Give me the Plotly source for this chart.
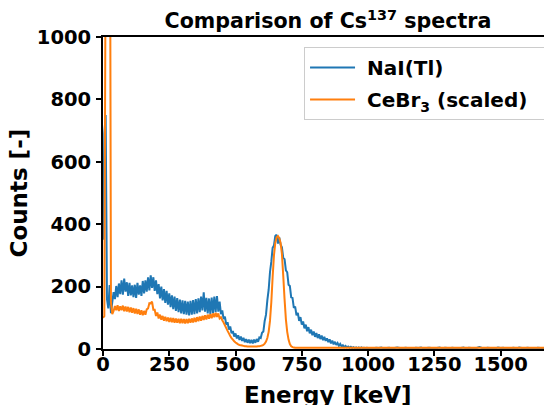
import plotly.graph_objects as go

# ---- data ----
channel_step_keV = 5          # main region 0..1000 keV
tail_step_keV = 10            # tail region 1010..1690 keV

nai_counts = [
    350, 690, 750, 160, 130, 205, 115, 150, 182, 160,
    202, 166, 210, 176, 220, 174, 226, 184, 214, 170,
    212, 172, 204, 166, 206, 164, 212, 174, 204, 170,
    218, 178, 220, 184, 230, 188, 236, 196, 230, 186,
    220, 176, 208, 162, 200, 156, 192, 148, 186, 142,
    178, 134, 172, 128, 168, 122, 163, 118, 158, 114,
    156, 112, 154, 110, 152, 108, 154, 110, 157, 112,
    160, 114, 162, 118, 168, 124, 182, 120, 164, 114,
    162, 112, 165, 116, 168, 118, 170, 120, 152, 112,
    124, 96, 104, 78, 86, 62, 72, 50, 58, 40,
    50, 34, 44, 29, 40, 26, 36, 22, 32, 20,
    30, 19, 29, 18, 30, 20, 32, 23, 37, 35,
    52, 56, 90, 110, 156, 190, 246, 280, 324, 332,
    362, 366, 338, 358, 334, 326, 292, 288, 252, 246,
    206, 202, 166, 164, 132, 136, 108, 116, 90, 102,
    78, 88, 66, 78, 57, 70, 50, 62, 44, 56,
    39, 51, 35, 47, 32, 43, 28, 39, 26, 34,
    22, 31, 18, 27, 15, 23, 13, 19, 10, 16,
    8, 12, 6, 10, 5, 8, 4, 7, 3, 6,
    3, 5, 2, 5, 2, 5, 3, 4, 2, 4,
    3,
]
nai_tail_counts = [
    3, 2, 4, 3, 5, 2, 3, 4, 2, 3, 5, 3, 2, 4, 3, 3, 2, 4, 3, 5,
    2, 3, 4, 3, 2, 3, 5, 2, 4, 3, 3, 4, 2, 3, 3, 5, 2, 4, 3, 2,
    3, 6, 3, 2, 4, 3, 3, 2, 5, 3, 4, 2, 3, 3, 4, 2, 5, 3, 2, 4,
    3, 3, 2, 4, 3, 2, 3, 4, 2,
]

cebr3_counts = [
    100, 105, 1300, 2500, 2500, 2000, 150, 112, 122, 138,
    124, 140, 122, 137, 124, 139, 121, 136, 120, 135,
    118, 133, 116, 131, 114, 129, 112, 127, 110, 124,
    108, 122, 110, 127, 130, 147, 146, 152, 126, 126,
    106, 117, 98, 110, 94, 106, 91, 103, 89, 101,
    87, 100, 86, 99, 84, 98, 84, 97, 83, 97,
    83, 96, 82, 96, 83, 97, 84, 98, 85, 100,
    87, 102, 89, 104, 91, 106, 93, 108, 95, 110,
    97, 112, 99, 114, 102, 116, 103, 114, 98, 102,
    92, 85, 76, 67, 58, 50, 42, 35, 30, 25,
    21, 18, 15, 13, 12, 11, 10, 9, 9, 8,
    8, 8, 8, 8, 8, 8, 8, 9, 9, 10,
    11, 13, 17, 24, 35, 55, 90, 150, 230, 300,
    340, 358, 362, 355, 340, 305, 235, 160, 95, 55,
    30, 16, 9, 6, 5, 4, 4, 4, 4, 4,
    4, 4, 4, 4, 4, 4, 4, 4, 4, 4,
    4, 4, 4, 4, 4, 4, 4, 4, 4, 4,
    4, 4, 4, 4, 4, 4, 4, 4, 4, 4,
    4, 4, 4, 4, 4, 4, 4, 4, 4, 4,
    4, 4, 4, 4, 4, 4, 4, 4, 4, 4,
    4,
]
cebr3_tail_counts = [4] * 69

x_tick_values = [0, 250, 500, 750, 1000, 1250, 1500]
y_tick_values = [0, 200, 400, 600, 800, 1000]
x_range = [0, 1694]
y_range = [0, 1000]

title_text = "Comparison of Cs<sup>137</sup> spectra"
x_title = "Energy [keV]"
y_title = "Counts [-]"
series_names = ["\u00a0NaI(Tl)", "\u00a0CeBr<sub>3</sub> (scaled)\u00a0\u2009"]

# ---- build x values ----
def energies(main, tail):
    e = [channel_step_keV * i for i in range(len(main))]
    last = e[-1]
    e += [last + tail_step_keV * (i + 1) for i in range(len(tail))]
    return e

nai_x = energies(nai_counts, nai_tail_counts)
nai_y = nai_counts + nai_tail_counts
ce_x = energies(cebr3_counts, cebr3_tail_counts)
ce_y = cebr3_counts + cebr3_tail_counts

FONT = "DejaVu Sans"
# page body has an 8px margin; the figure is sized to fill the rest of the window
W, H, OFF = 544, 397, 8

fig = go.Figure()
fig.add_trace(go.Scatter(x=nai_x, y=nai_y, mode="lines", name=series_names[0],
                         line=dict(color="#1f77b4", width=2, simplify=False), legendgroup="a"))
fig.add_trace(go.Scatter(x=ce_x, y=ce_y, mode="lines", name=series_names[1],
                         line=dict(color="#ff7f0e", width=2, simplify=False), legendgroup="b"))

fig.update_layout(
    width=W, height=H,
    margin=dict(l=103 - OFF, r=0, t=37 - OFF, b=56),
    paper_bgcolor="white", plot_bgcolor="white",
    font=dict(family=FONT, color="black"),
    title=dict(text=title_text, x=(328 - OFF) / W, xanchor="center", xref="container",
               y=1 - (21 - OFF) / H, yanchor="middle", yref="container",
               font=dict(family=FONT, size=20.6, weight="bold", color="black")),
    showlegend=True,
    legend=dict(x=0.9845, y=(349 - 47) / 312, xanchor="right", yanchor="top",
                bgcolor="rgba(255,255,255,0.8)", bordercolor="#cccccc", borderwidth=1,
                font=dict(family=FONT, size=20, weight="bold", color="black"),
                tracegroupgap=3, itemwidth=45),
)
fig.update_xaxes(range=x_range, tickvals=x_tick_values, showgrid=False, zeroline=False,
                 showline=True, linecolor="black", linewidth=2, mirror=True,
                 ticks="outside", ticklen=5, tickwidth=1.6, tickcolor="black",
                 ticklabelstandoff=-8,
                 tickfont=dict(family=FONT, size=19.5, weight="bold", color="black"))
fig.update_yaxes(range=y_range, tickvals=y_tick_values, showgrid=False, zeroline=False,
                 showline=True, linecolor="black", linewidth=2, mirror=False,
                 ticks="outside", ticklen=5, tickwidth=1.6, tickcolor="black",
                 ticklabelstandoff=1,
                 tickfont=dict(family=FONT, size=19.5, weight="bold", color="black"))

fig.add_annotation(text=x_title, xref="paper", yref="paper", x=0.5, y=(349 - 395) / 312,
                   xanchor="center", yanchor="middle", showarrow=False,
                   font=dict(family=FONT, size=23, weight="bold", color="black"))
fig.add_annotation(text=y_title, xref="paper", yref="paper", x=(18.5 - 103) / 449,
                   y=0.5, xanchor="center", yanchor="middle",
                   textangle=-90, showarrow=False,
                   font=dict(family=FONT, size=23, weight="bold", color="black"))

fig.write_html("out.html")
